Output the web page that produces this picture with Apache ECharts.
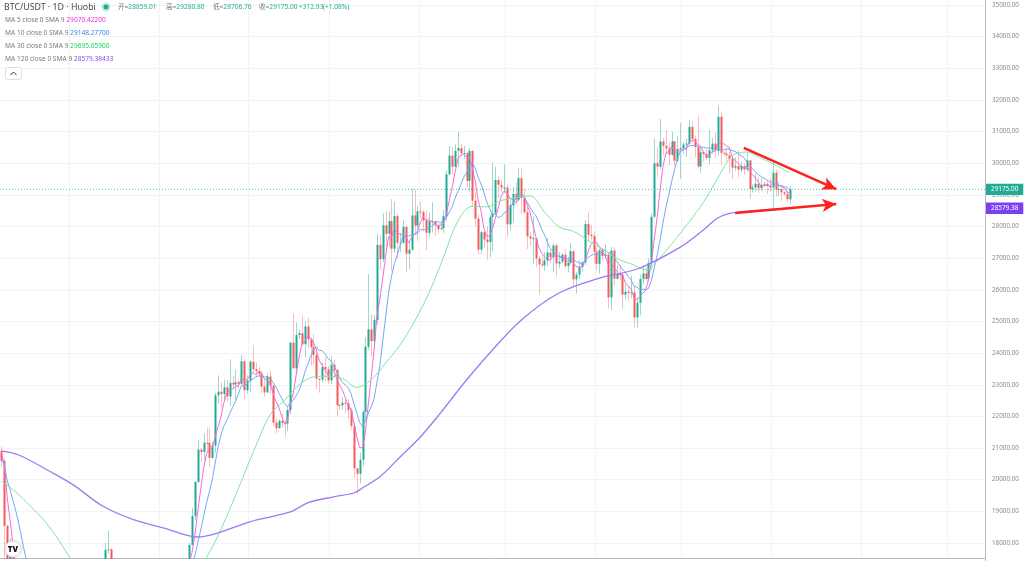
<!DOCTYPE html>
<html><head><meta charset="utf-8">
<script src="https://cdn.jsdelivr.net/npm/echarts@6.0.0/dist/echarts.min.js"></script>
<style>html,body{margin:0;padding:0;background:#fff;}#chart{width:1024px;height:561px;}</style>
</head><body><div id="chart"></div>
<script>
// ---------------- data ----------------
const firstDay = [2022, 10, 7];   // 2022-11-07 (month is 0-based)
const dayCount = 341;             // categories on the time axis
// daily candles [open, high, low, close]
const nov22 = [[20905,21050,20400,20590],[20590,20670,17170,18540],[18540,18590,15590,15880],[15880,18150,15750,17590],[17590,17650,16360,17050],[17050,17080,16710,16810],[16810,16950,16300,16330],[16330,17190,15820,16610],[16610,17130,16550,16880],[16880,16960,16370,16660],[16660,16740,16410,16690],[16690,16990,16560,16700],[16700,16820,16560,16640],[16640,16700,16180,16270],[16270,16290,15480,15780],[15780,16300,15640,16220],[16220,16690,16160,16600],[16600,16810,16460,16520],[16520,16530,16320,16460],[16460,16700,16400,16440],[16440,16600,16400,16420],[16420,16480,16000,16210],[16210,16550,16120,16440],[16440,17240,16430,17160]];
const dec22 = [[17160,17320,16860,16980],[16980,17110,16790,17090],[17090,17150,16880,16890],[16890,17200,16880,17110],[17110,17420,16870,16970],[16970,17110,16910,17090],[17090,17140,16680,16840],[16840,17300,16740,17220],[17220,17350,17080,17130],[17130,17230,17090,17130],[17130,17270,17070,17090],[17090,17240,16870,17210],[17210,18000,17090,17780],[17780,18390,17660,17800],[17800,17850,17280,17360],[17360,17530,16580,16630],[16630,16800,16590,16780],[16780,16860,16690,16740],[16740,16810,16270,16440],[16440,17060,16400,16900],[16900,16910,16730,16820],[16820,16860,16560,16830],[16830,16950,16760,16780],[16780,16860,16780,16840],[16840,16860,16740,16830],[16830,16930,16780,16910],[16910,16960,16600,16700],[16700,16780,16470,16540],[16540,16660,16500,16630],[16630,16640,16340,16600],[16600,16630,16490,16540]];
const jan23 = [[16540,16630,16500,16620],[16620,16790,16550,16680],[16680,16770,16600,16670],[16670,17000,16660,16850],[16850,16880,16750,16830],[16830,17040,16680,16950],[16950,16970,16910,16940],[16940,17180,16910,17130],[17130,17400,17100,17190],[17190,17490,17150,17440],[17440,18000,17310,17940],[17940,19100,17920,18850],[18850,19960,18720,19930],[19930,21260,19900,20950],[20950,21000,20560,20880],[20880,21460,20610,21170],[21170,21650,20860,21160],[21160,21650,20400,20690],[20690,21190,20660,21080],[21080,22750,20860,22670],[22670,23300,22400,22780],[22780,23070,22300,22710],[22710,23170,22520,22920],[22920,23160,22470,22630],[22630,23800,22330,23060],[23060,23280,22850,23010],[23010,23480,22550,23080],[23080,23170,22880,23030],[23030,23950,22990,23740],[23740,23780,22540,22830],[22830,23300,22720,23130]];
const feb23 = [[23130,23770,22760,23730],[23730,24250,23390,23490],[23490,23700,23230,23430],[23430,23570,23250,23330],[23330,23440,22750,22940],[22940,23160,22630,22760],[22760,23360,22740,23260],[23260,23450,22700,22960],[22960,23010,21690,21800],[21800,21930,21470,21630],[21630,21900,21600,21860],[21860,22090,21650,21790],[21790,21890,21360,21780],[21780,22330,21530,22200],[22200,24360,22060,24330],[24330,25250,23520,23520],[23520,24970,23360,24570],[24570,24750,24450,24630],[24630,25190,24250,24280],[24280,25010,23870,24840],[24840,25120,24150,24440],[24440,24480,23610,24190],[24190,24600,23640,23940],[23940,24130,22860,23190],[23190,23210,22750,23160],[23160,23690,23080,23560],[23560,23880,23110,23490],[23490,23600,23030,23140]];
const mar23 = [[23140,23900,23020,23630],[23630,23780,23210,23470],[23470,23480,22000,22360],[22360,22400,22200,22350],[22350,22610,22210,22430],[22430,22550,22110,22410],[22410,22540,21930,22200],[22200,22270,21580,21700],[21700,21810,20060,20360],[20360,20370,19550,20190],[20190,20850,19880,20630],[20630,22190,20430,22140],[22140,24500,21900,24200],[24200,26500,24100,24750],[24750,25230,23900,24380],[24380,25200,24120,25050],[25050,27760,24900,27420],[27420,27730,26630,26970],[26970,28420,26880,28040],[28040,28500,27170,27770],[27770,28470,27350,28170],[28170,28870,26610,27300],[27300,28790,27170,28330],[28330,28390,27010,27490],[27490,27800,27180,27490],[27490,28200,27440,27990],[27990,28030,26560,27140],[27140,27500,26650,27270],[27270,29200,27240,28350],[28350,29160,27720,28030],[28030,28650,27550,28480]];
const apr23 = [[28480,28800,28260,28460],[28460,28530,27870,28200],[28200,28500,27250,27800],[27800,28440,27680,28170],[28170,28770,27810,28170],[28170,28190,27710,28040],[28040,28100,27770,27920],[27920,28180,27880,27950],[27950,28530,27800,28330],[28330,29770,28170,29650],[29650,30550,29610,30240],[30240,30500,29640,29890],[29890,30600,29870,30390],[30390,31000,29880,30480],[30480,30620,30230,30320],[30320,30550,30140,30320],[30320,30330,29260,29440],[29440,30480,29100,30390],[30390,30410,28630,28820],[28820,29090,28000,28250],[28250,28370,27130,27270],[27270,27880,27130,27820],[27820,27820,27340,27590],[27590,28000,26960,27510],[27510,28380,27030,28300],[28300,30020,27230,28420],[28420,29880,28390,29470],[29470,29580,28890,29320],[29320,29460,29100,29230],[29230,29960,29050,29230]];
const may23 = [[29230,29330,27680,28070],[28070,28880,27880,28670],[28670,29260,28130,29030],[29030,29380,28680,28850],[28850,29850,28820,29530],[29530,29830,28390,28900],[28900,29180,28400,28450],[28450,28650,27290,27690],[27690,27830,27380,27620],[27620,28330,26810,27630],[27630,27640,26730,26990],[26990,27080,25850,26800],[26800,27040,26700,26780],[26780,27200,26600,26930],[26930,27650,26750,27180],[27180,27280,26850,27030],[27030,27480,26580,27400],[27400,27480,26420,26830],[26830,27200,26690,26890],[26890,27160,26830,27110],[27110,27270,26690,26750],[26750,27040,26550,26850],[26850,27480,26810,27220],[27220,27220,26100,26330],[26330,26560,25880,26480],[26480,26930,26330,26720],[26720,26890,26570,26870],[26870,28200,26780,28080],[28080,28450,27550,27740],[27740,28050,27560,27700],[27700,27840,26840,27210]];
const jun23 = [[27210,27350,26610,26820],[26820,27300,26520,27250],[27250,27320,26930,27070],[27070,27440,26990,27120],[27120,27130,25400,25760],[25760,27350,25360,27240],[27240,27340,26130,26350],[26350,26800,26330,26500],[26500,26780,26290,26480],[26480,26530,25400,25850],[25850,26200,25700,25940],[25940,26100,25660,25900],[25900,26440,25730,25920],[25920,26100,24820,25130],[25130,25750,24800,25590],[25590,26480,25190,26340],[26340,26780,26190,26520],[26520,26690,26280,26340],[26340,26980,26260,26850],[26850,28420,26630,28310],[28310,30780,28280,30000],[30000,30500,29600,29890],[29890,31400,29810,30690],[30690,30800,30250,30550],[30550,31050,30300,30470],[30470,30650,29930,30270],[30270,31000,30230,30690],[30690,30700,29900,30080],[30080,30850,30040,30450],[30450,31280,29500,30480]];
const jul23 = [[30480,30660,30320,30590],[30590,30790,30200,30620],[30620,31380,30580,31150],[31150,31330,30630,30770],[30770,30880,30200,30510],[30510,31500,29850,29900],[29900,30450,29700,30350],[30350,30380,30050,30290],[30290,30440,30100,30170],[30170,31050,29950,30410],[30410,30800,30300,30620],[30620,30980,30200,30390],[30390,31820,30250,31470],[31470,31640,29940,30330],[30330,30390,30250,30300],[30300,30450,30070,30250],[30250,30340,29670,30140],[30140,30240,29500,29860],[29860,30190,29760,29910],[29910,30420,29560,29800],[29800,30050,29720,29910],[29910,29990,29640,29800],[29800,30340,29740,30090],[30090,30100,28880,29180],[29180,29330,29070,29230],[29230,29680,29100,29350],[29350,29570,29060,29210],[29210,29530,29120,29320],[29320,29420,29260,29350],[29350,29450,29030,29280],[29280,29530,29110,29230]];
const aug23 = [[29230,30060,28600,29700],[29700,29800,28950,29180],[29180,29410,28960,29180],[29180,29320,28800,29080],[29080,29120,28960,29030],[29030,29130,28780,28862.07],[28859.01,29280.80,28706.76,29175.00]];

// moving averages, one value per day from 2022-11-07
const ma5 = [20830,20500,19440,18700,17930,17170,16730,16880,16740,16660,16630,16710,16710,16590,16420,16320,16300,16280,16320,16450,16490,16410,16390,16530,16640,16780,16910,17050,17010,17030,16980,17050,17050,17080,17080,17160,17270,17400,17450,17360,17270,17060,16790,16700,16740,16750,16750,16830,16820,16840,16810,16760,16720,16680,16600,16590,16610,16620,16670,16730,16800,16850,16940,17010,17130,17330,17710,18270,19020,19710,20360,20820,20970,21000,21350,21680,21990,22430,22740,22820,22870,22940,22960,23180,23140,23160,23290,23380,23320,23420,23380,23190,23140,23050,22740,22480,22300,22010,21770,21850,22390,22720,23280,23850,24270,24370,24550,24480,24340,24120,23780,23610,23470,23310,23400,23460,23220,22990,22850,22600,22350,22220,21820,21370,21020,21000,21500,22380,23220,24100,25160,25710,26370,27050,27670,27650,27920,27810,27760,27720,27690,27480,27650,27760,27850,28120,28300,28190,28220,28160,28080,28020,28050,28080,28380,28820,29210,29700,30130,30260,30280,30190,30190,29860,29440,28830,28510,27950,27690,27700,27930,28260,28600,28950,29130,29060,28900,28850,28770,28830,29000,28950,28680,28440,28060,27680,27350,27160,27030,26940,26940,27060,27070,27070,27050,27000,26890,26960,26850,26730,26720,26720,26900,27180,27420,27520,27510,27340,27210,27090,26800,26890,26710,26590,26470,26480,26220,26130,26020,25750,25700,25780,25900,25980,26330,26870,27600,28280,29150,29890,30320,30370,30530,30410,30390,30390,30460,30440,30660,30720,30730,30590,30540,30360,30240,30220,30370,30380,30610,30640,30620,30550,30500,30180,30090,29990,29920,29860,29900,29760,29640,29530,29410,29260,29290,29300,29280,29380,29350,29310,29270,29230,29070,29070.422];
const ma10 = [20680,20450,19970,19680,19340,19000,18620,18160,17720,17300,16900,16720,16800,16670,16540,16480,16510,16500,16460,16440,16410,16360,16340,16430,16550,16640,16660,16720,16770,16840,16880,16980,17050,17050,17060,17070,17160,17230,17270,17220,17220,17170,17100,17080,17050,17010,16910,16810,16760,16790,16780,16760,16780,16750,16720,16700,16690,16670,16680,16670,16700,16730,16780,16840,16930,17070,17280,17610,18020,18420,18850,19270,19620,20010,20530,21020,21410,21700,21870,22090,22280,22470,22700,22960,22980,23020,23120,23170,23250,23280,23270,23240,23260,23190,23080,22930,22750,22580,22410,22300,22440,22510,22650,22810,23060,23380,23640,23880,24100,24200,24080,24080,23980,23830,23760,23620,23420,23230,23080,23000,22910,22720,22410,22110,21810,21680,21860,22100,22300,22560,23080,23610,24380,25140,25890,26410,26820,27090,27410,27700,27670,27700,27730,27760,27790,27910,27890,27920,27990,28010,28100,28160,28120,28150,28270,28450,28620,28880,29110,29320,29550,29700,29950,30000,29850,29560,29350,29070,28780,28570,28380,28390,28280,28320,28420,28500,28580,28730,28860,28980,29030,28930,28770,28610,28450,28340,28150,27920,27740,27500,27310,27210,27120,27050,27000,26970,26980,27020,26960,26890,26860,26810,26930,27020,27080,27120,27120,27120,27200,27260,27160,27200,27030,26900,26780,26640,26560,26420,26310,26110,26090,26000,26020,26000,26040,26290,26690,27090,27570,28110,28600,28990,29410,29780,30140,30360,30420,30490,30540,30560,30560,30530,30490,30510,30480,30480,30480,30460,30490,30440,30420,30460,30440,30400,30370,30310,30240,30180,30040,29930,29820,29730,29640,29580,29530,29470,29410,29400,29310,29300,29290,29260,29230,29148.277];
// [day offset from 2022-11-07, value]
const ma30 = [[0,19950],[5,19610],[10,19170],[15,18690],[20,18070],[24,17480],[30,16730],[35,16730],[40,16830],[45,16900],[50,16960],[55,16930],[60,16900],[65,16930],[68,17150],[73,17870],[78,18850],[83,19940],[88,21050],[93,22050],[98,22510],[103,22990],[108,23250],[113,23270],[118,23200],[123,22920],[128,23160],[133,23690],[138,24260],[143,25000],[148,25900],[153,27020],[158,28170],[163,28640],[168,28620],[173,28820],[178,28910],[183,28970],[188,28460],[193,27990],[198,27850],[203,27560],[208,27300],[213,26990],[218,26820],[223,26640],[228,27020],[233,27560],[238,28140],[243,28760],[248,29530],[253,30230],[258,30350],[263,30160],[268,29940],[273,29695.059]];
const ma120 = [[0,20910],[6,20780],[17,20250],[25,19830],[35,19170],[46,18730],[56,18480],[64,18250],[68,18190],[75,18320],[86,18670],[100,18980],[106,19270],[115,19460],[122,19580],[125,19740],[131,20090],[138,20720],[145,21350],[152,22110],[161,23150],[170,24100],[180,25050],[193,25900],[207,26370],[221,26690],[235,27350],[243,27890],[248,28270],[253,28430],[259,28490],[273,28579.38433]];
const maNames = ['MA 5 close 0 SMA 9','MA 10 close 0 SMA 9','MA 30 close 0 SMA 9','MA 120 close 0 SMA 9'];
// red annotation arrows: [start day, start price, end day, end price]
const arrows = [[257,30482,289,29180],[254,28428,289,28709]];
const yTicks = {min:17000, max:36000, step:1000};

// ---------------- build ----------------
const candles = [].concat(nov22, dec22, jan23, feb23, mar23, apr23, may23, jun23, jul23, aug23);
function dayLabel(n){ const d = new Date(Date.UTC(firstDay[0], firstDay[1], firstDay[2] + n)); return d.toISOString().slice(0,10); }
const dates = Array.from({length: dayCount}, (_, n) => dayLabel(n));
const last = candles[candles.length-1];
const prevClose = candles[candles.length-2][3];
const chg = last[3] - prevClose;
const chgPct = chg / prevClose * 100;

const UP = '#22ab94', DOWN = '#f45b5b';
const UP_W = 'rgba(34,171,148,0.45)', DOWN_W = 'rgba(244,91,91,0.4)';
const FONT = '"Noto Sans","Noto Sans CJK SC",sans-serif';
const maColors = ['#f66bd9','#72a9f7','#80e69e','#a078f6'];
const maValColors = ['#ee30cf','#3188f5','#1fd65e','#8a4df6'];
const maLast = [ma5[ma5.length-1], ma10[ma10.length-1], ma30[ma30.length-1][1], ma120[ma120.length-1][1]];

const chart = echarts.init(document.getElementById('chart'), null, {renderer:'canvas'});

function txt(x, y, text, color, size, weight){
  return {type:'text', x:x, y:y, z:100, silent:true,
    style:{text:text, fill:color, fontSize:size||7.5, fontFamily:FONT, fontWeight:weight||'normal', verticalAlign:'middle', align:'left'}};
}
function rich(x, y, label, value, valColor, size){
  return {type:'text', x:x, y:y, z:100, silent:true,
    style:{text:'{l|' + label + '}{v|' + value + '}', verticalAlign:'middle', align:'left', fontFamily:FONT, fontSize:size,
      rich:{l:{fill:'#7a7a7a', fontSize:size, fontFamily:FONT}, v:{fill:valColor, fontSize:size, fontFamily:FONT}}}};
}
const g = [];
g.push(txt(4, 7, 'BTC/USDT · 1D · Huobi', '#4b4b4b', 8.8));
g.push({type:'circle', z:100, shape:{cx:106, cy:7, r:4.5}, style:{fill:'rgba(34,171,148,0.25)'}});
g.push({type:'circle', z:101, shape:{cx:106, cy:7, r:2.5}, style:{fill:UP}});
const ohlcLabels = ['开=','高=','低=','收='];
const ohlcX = [118, 166, 213, 259];
ohlcLabels.forEach((l, k) => g.push(rich(ohlcX[k], 7, l, last[k].toFixed(2), UP, 6.6)));
g.push(txt(299, 7, (chg >= 0 ? '+' : '') + chg.toFixed(2), UP, 6.6));
g.push(txt(323, 7, '(' + (chg >= 0 ? '+' : '') + chgPct.toFixed(2) + '%)', UP, 6.6));
const rowY = [20.5, 33.5, 46.5, 59.5];
maNames.forEach((n, k) => g.push(rich(5, rowY[k], n + ' ', maLast[k].toFixed(5), maValColors[k], 6.6)));
// collapse button
g.push({type:'rect', z:100, shape:{x:5.5, y:67.5, width:16, height:12, r:2}, style:{fill:'#fff', stroke:'#dedede', lineWidth:1}});
g.push({type:'polyline', z:101, shape:{points:[[10.5,75],[13.5,72],[16.5,75]]}, style:{stroke:'#333', lineWidth:1, fill:null}});
// mask under the time axis line
g.push({type:'rect', z:50, shape:{x:0, y:559, width:985, height:3}, style:{fill:'#fff'}});
// logo
g.push({type:'circle', z:100, shape:{cx:13, cy:549, r:8}, style:{fill:'#fff', stroke:'#e6e6e6', lineWidth:1, shadowBlur:3, shadowColor:'rgba(0,0,0,0.15)'}});
g.push({type:'text', z:101, x:13, y:549.5, style:{text:'TV', fill:'#131722', fontSize:8, fontWeight:900, fontFamily:FONT, align:'center', verticalAlign:'middle'}});

const tagLabel = (bg, val) => ({show:true, position:'end', distance:1, formatter:() => val.toFixed(2), color:'#fff', backgroundColor:bg,
  padding:[3,5,2,5], fontSize:6.4, fontFamily:FONT, opacity:1});

const option = {
  animation:false,
  backgroundColor:'#ffffff',
  grid:{left:0, right:39, top:-26.65, bottom:-13.65, containLabel:false, outerBoundsMode:'none'},
  xAxis:[
    {type:'category', data:dates, boundaryGap:true, offset:-16.5,
      axisLine:{show:true, onZero:false, lineStyle:{color:'#b8bbc2', width:1}},
      axisTick:{show:false}, axisLabel:{show:false},
      splitLine:{show:true, interval:(idx, val) => val.slice(8) === '01', lineStyle:{color:'#f2f3f5', width:1}}},
    // hidden helper axis spanning the whole plot width, used by the current-price line
    {type:'value', min:0, max:1, show:false, axisLine:{onZero:false}}
  ],
  yAxis:{type:'value', position:'right', min:yTicks.min, max:yTicks.max, interval:yTicks.step, scale:false,
    axisLine:{show:true, onZero:false, lineStyle:{color:'#b8bbc2', width:1}},
    axisTick:{show:false},
    axisLabel:{color:'#86898f', fontSize:6.3, fontFamily:FONT, margin:7, formatter:v => v.toFixed(2)},
    splitLine:{show:true, lineStyle:{color:'#f2f3f5', width:1}}},
  graphic:g,
  series:[
    {type:'custom', name:'BTC', z:2,
      data:candles.map((k, i) => [i, k[0], k[1], k[2], k[3]]),
      encode:{x:0, y:[1,2,3,4]},
      renderItem:function(params, api){
        const i = api.value(0), o = api.value(1), h = api.value(2), l = api.value(3), c = api.value(4);
        const pO = api.coord([i, o]), pC = api.coord([i, c]), pH = api.coord([i, h]), pL = api.coord([i, l]);
        const up = c >= o;
        const cx = Math.round(pO[0]);
        const top = Math.min(pO[1], pC[1]), bot = Math.max(pO[1], pC[1]);
        return {type:'group', children:[
          {type:'line', shape:{x1:cx+0.5, y1:pH[1], x2:cx+0.5, y2:pL[1]}, style:{stroke:up?UP_W:DOWN_W, lineWidth:1}},
          {type:'rect', shape:{x:cx-0.5, y:top, width:2, height:Math.max(1, bot-top)}, style:{fill:up?UP:DOWN}}
        ]};
      }},
    {type:'line', name:'MA5', z:3, data:ma5.map((v, i) => [i, v]), showSymbol:false, symbol:'none',
      lineStyle:{color:maColors[0], width:1}},
    {type:'line', name:'MA10', z:3, data:ma10.map((v, i) => [i, v]), showSymbol:false, symbol:'none',
      lineStyle:{color:maColors[1], width:1}},
    {type:'line', name:'MA30', z:3, data:ma30, showSymbol:false, symbol:'none', smooth:0.35,
      lineStyle:{color:maColors[2], width:1},
      markLine:{silent:true, animation:false, symbol:['none','arrow'], symbolSize:[10,14],
        label:{show:false},
        lineStyle:{color:'#ff2020', width:2.5, type:'solid'},
        data:arrows.map(a => [{coord:[dates[a[0]], a[1]]}, {coord:[dates[a[2]], a[3]]}])}},
    {type:'line', name:'MA120', z:3, data:ma120, showSymbol:false, symbol:'none', smooth:0.35,
      lineStyle:{color:maColors[3], width:1.3},
      markLine:{silent:true, animation:false, symbol:['none','none'],
        data:[
          {yAxis:maLast[3], lineStyle:{color:'rgba(0,0,0,0)', width:0.01}, label:tagLabel('#7b3ff2', maLast[3])},
          {yAxis:last[3], lineStyle:{color:'rgba(0,0,0,0)', width:0.01}, label:tagLabel(UP, last[3])}
        ]}},
    {type:'line', name:'price', z:4, xAxisIndex:1, data:[[0, last[3]], [1, last[3]]], showSymbol:false, symbol:'none',
      lineStyle:{color:'#3dbba5', type:[1, 2], width:1, opacity:0.9}}
  ]
};
chart.setOption(option);
</script>
</body></html>
